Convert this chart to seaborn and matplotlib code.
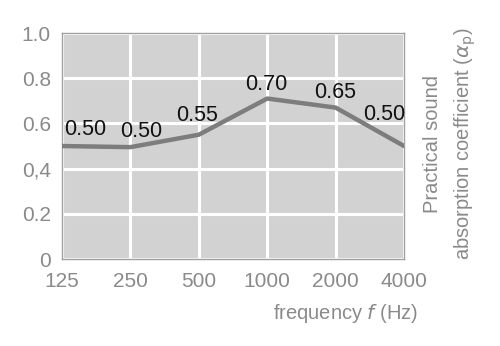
import matplotlib
matplotlib.use("Agg")
import matplotlib.pyplot as plt
import seaborn as sns
import pandas as pd

frequencies = [125, 250, 500, 1000, 2000, 4000]
absorption = [0.50, 0.495, 0.55, 0.71, 0.67, 0.50]
value_labels = ["0.50", "0.50", "0.55", "0.70", "0.65", "0.50"]
y_ticks = [0, 0.2, 0.4, 0.6, 0.8, 1.0]
y_tick_labels = ["0", "0.2", "0,4", "0.6", "0.8", "1.0"]

sns.set_theme(style="white")
plt.rcParams['font.family'] = ['Liberation Sans Narrow', 'Liberation Sans', 'DejaVu Sans']

df = pd.DataFrame({"freq": frequencies, "alpha": absorption})

fig = plt.figure(figsize=(5.0, 3.46), dpi=100)
ax = fig.add_axes([0.124, 0.2514, 0.684, 0.6532])
ax.set_facecolor("#d2d2d2")
ax.set_xscale("log", base=2)

sns.lineplot(data=df, x="freq", y="alpha", ax=ax, color="#7d7d7d", linewidth=3.2, zorder=3)

ax.set_xlim(125, 4000)
ax.set_ylim(0, 1.0)
ax.set_xticks(frequencies)
ax.set_xticklabels([str(f) for f in frequencies])
ax.minorticks_off()
ax.set_yticks(y_ticks)
ax.set_yticklabels(y_tick_labels)
ax.grid(True, color="white", linewidth=2.2)
ax.set_axisbelow(True)
ax.tick_params(axis="both", length=0, labelsize=15, labelcolor="#8a8a8a")
ax.tick_params(axis="x", pad=9)
ax.tick_params(axis="y", pad=8)
for s in ax.spines.values():
    s.set_color("#a0a0a0")
    s.set_linewidth(1.0)

offsets = [(17, 12), (8, 11), (-1, 14), (-1, 10), (0, 11), (-14, 23)]
for f, v, lab, off in zip(frequencies, absorption, value_labels, offsets):
    ax.annotate(lab, (f, v), xytext=off, textcoords="offset points",
                ha="center", va="center", fontsize=15.5, color="#111111", zorder=4)

ax.set_xlabel("")
ax.set_ylabel("")
fig.text(0.692, 0.095, "frequency $\\it{f}$ (Hz)", ha="center", va="center",
         fontsize=14.5, color="#8a8a8a")
fig.text(0.901, 0.585, "Practical sound\nabsorption coefficient ($\\alpha_\\mathrm{p}$)",
         rotation=90, ha="center", va="center", fontsize=14.5, color="#8a8a8a",
         linespacing=1.6)

fig.savefig("out.png", dpi=100)
